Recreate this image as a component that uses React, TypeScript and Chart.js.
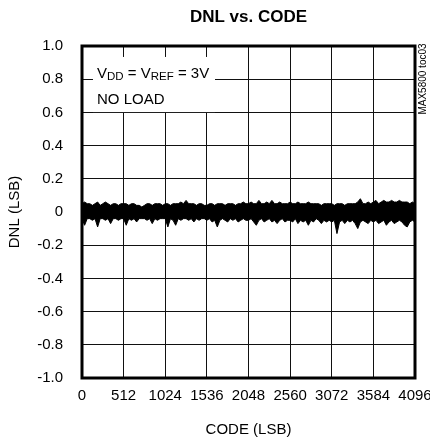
import React, { useEffect, useRef } from "react";
import { Chart, registerables } from "chart.js";

Chart.register(...registerables);

const TITLE = "DNL vs. CODE";
const X_TITLE = "CODE (LSB)";
const Y_TITLE = "DNL (LSB)";
const FIG_ID = "MAX5800 toc03";
const NOTE_LINE1: [string, boolean][] = [
  ["V", false],
  ["DD", true],
  [" = V", false],
  ["REF", true],
  [" = 3V", false],
];
const NOTE_LINE2 = "NO LOAD";

const X_TICKS = [0, 512, 1024, 1536, 2048, 2560, 3072, 3584, 4096];
const Y_TICKS = [-1.0, -0.8, -0.6, -0.4, -0.2, 0, 0.2, 0.4, 0.6, 0.8, 1.0];

// sample spacing of the envelope readings (codes)
const CODE_STEP = 32;

// upper envelope of DNL band (LSB), one reading every 32 codes
const DNL_UPPER = [
  0.05, 0.06, 0.05, 0.05, 0.04, 0.05, 0.06, 0.04, 0.05, 0.06, 0.05, 0.04, 0.05, 0.05, 0.04, 0.05,
  0.05, 0.05, 0.04, 0.05, 0.05, 0.04, 0.04, 0.03, 0.04, 0.05, 0.05, 0.04, 0.05, 0.05, 0.05, 0.04,
  0.05, 0.05, 0.04, 0.05, 0.05, 0.05, 0.06, 0.05, 0.07, 0.05, 0.05, 0.05, 0.04, 0.05, 0.05, 0.04,
  0.04, 0.05, 0.05, 0.04, 0.05, 0.05, 0.05, 0.04, 0.05, 0.05, 0.05, 0.04, 0.05, 0.05, 0.06, 0.05,
  0.05, 0.06, 0.05, 0.05, 0.07, 0.05, 0.05, 0.06, 0.05, 0.07, 0.05, 0.05, 0.06, 0.05, 0.05, 0.05,
  0.06, 0.05, 0.05, 0.06, 0.05, 0.05, 0.05, 0.06, 0.05, 0.05, 0.05, 0.05, 0.04, 0.05, 0.05, 0.05,
  0.05, 0.04, 0.05, 0.05, 0.05, 0.04, 0.05, 0.05, 0.05, 0.05, 0.06, 0.08, 0.05, 0.05, 0.06, 0.05,
  0.06, 0.07, 0.05, 0.06, 0.07, 0.06, 0.06, 0.07, 0.06, 0.06, 0.07, 0.06, 0.06, 0.06, 0.05, 0.06,
  0.05,
];

// lower envelope of DNL band (LSB)
const DNL_LOWER = [
  -0.04, -0.08, -0.04, -0.04, -0.05, -0.04, -0.09, -0.04, -0.04, -0.05, -0.04, -0.07, -0.04, -0.04, -0.05, -0.04,
  -0.04, -0.08, -0.04, -0.05, -0.04, -0.06, -0.04, -0.04, -0.04, -0.05, -0.04, -0.07, -0.04, -0.05, -0.04, -0.04,
  -0.04, -0.09, -0.04, -0.05, -0.08, -0.04, -0.05, -0.04, -0.04, -0.05, -0.04, -0.06, -0.04, -0.05, -0.04, -0.04,
  -0.05, -0.04, -0.06, -0.05, -0.09, -0.05, -0.04, -0.05, -0.06, -0.04, -0.05, -0.04, -0.06, -0.05, -0.04, -0.05,
  -0.05, -0.04, -0.06, -0.08, -0.05, -0.04, -0.06, -0.05, -0.04, -0.06, -0.05, -0.07, -0.05, -0.04, -0.06, -0.05,
  -0.05, -0.06, -0.04, -0.07, -0.05, -0.06, -0.05, -0.08, -0.05, -0.06, -0.04, -0.05, -0.07, -0.05, -0.06, -0.05,
  -0.06, -0.05, -0.13, -0.06, -0.05, -0.07, -0.05, -0.06, -0.05, -0.07, -0.10, -0.06, -0.05, -0.06, -0.07, -0.05,
  -0.06, -0.05, -0.07, -0.06, -0.05, -0.08, -0.06, -0.05, -0.07, -0.06, -0.05, -0.06, -0.08, -0.09, -0.06, -0.05,
  -0.06,
];

const FONT = "'Liberation Sans', Arial, sans-serif";

const chartDecor = {
  id: "chartDecor",
  beforeDatasetsDraw(chart: any) {
    const { ctx } = chart;
    const xs = chart.scales.x;
    const ys = chart.scales.y;
    // white box behind note text
    const bx0 = xs.getPixelForValue(135);
    const bx1 = xs.getPixelForValue(1636);
    const by0 = ys.getPixelForValue(0.934);
    const by1 = ys.getPixelForValue(0.602);
    ctx.save();
    ctx.fillStyle = "#fff";
    ctx.fillRect(bx0, by0, bx1 - bx0, by1 - by0);
    ctx.fillStyle = "#000";
    ctx.textBaseline = "alphabetic";
    ctx.textAlign = "left";
    const tx = xs.getPixelForValue(185);
    const l1 = ys.getPixelForValue(0.807);
    const l2 = ys.getPixelForValue(0.65);
    let cx = tx;
    for (const [t, sub] of NOTE_LINE1) {
      ctx.font = `${sub ? 11.5 : 15}px ${FONT}`;
      ctx.fillText(t, cx, l1 + (sub ? 2 : 0));
      cx += ctx.measureText(t).width;
    }
    ctx.font = `15px ${FONT}`;
    ctx.fillText(NOTE_LINE2, tx, l2);
    ctx.restore();
  },
  afterDatasetsDraw(chart: any) {
    const { ctx, chartArea } = chart;
    ctx.save();
    ctx.strokeStyle = "#000";
    ctx.lineWidth = 3;
    ctx.strokeRect(
      chartArea.left,
      chartArea.top,
      chartArea.right - chartArea.left,
      chartArea.bottom - chartArea.top
    );
    ctx.translate(chartArea.right + 8, chartArea.top + 33);
    ctx.rotate(-Math.PI / 2);
    ctx.fillStyle = "#000";
    ctx.font = `10px ${FONT}`;
    ctx.textAlign = "center";
    ctx.textBaseline = "middle";
    ctx.fillText(FIG_ID, 0, 0);
    ctx.restore();
  },
};

export default function App() {
  const ref = useRef<HTMLCanvasElement>(null);
  useEffect(() => {
    const canvas = ref.current!;
    const chart = new Chart(canvas, {
      type: "line",
      data: {
        datasets: [
          {
            label: "upper",
            data: DNL_UPPER.map((y, i) => ({ x: i * CODE_STEP, y })),
            borderColor: "#000",
            borderWidth: 1,
            pointRadius: 0,
            tension: 0,
            fill: false,
          },
          {
            label: "lower",
            data: DNL_LOWER.map((y, i) => ({ x: i * CODE_STEP, y })),
            borderColor: "#000",
            borderWidth: 1,
            pointRadius: 0,
            tension: 0,
            fill: "-1",
            backgroundColor: "#000",
          },
        ],
      },
      options: {
        responsive: false,
        animation: false,
        layout: { padding: { top: 0, right: 15, bottom: 0, left: 0 } },
        plugins: {
          legend: { display: false },
          tooltip: { enabled: false },
          title: {
            display: true,
            text: TITLE,
            fullSize: false,
            color: "#000",
            font: { family: FONT, size: 17, weight: "bold" },
            padding: { top: 7, bottom: 18.6 },
          },
        },
        scales: {
          x: {
            type: "linear",
            min: 0,
            max: 4096,
            afterBuildTicks: (s: any) => {
              s.ticks = X_TICKS.map((value) => ({ value }));
            },
            afterFit: (s: any) => {
              s.height = 61;
              s.paddingLeft = 0;
              s.paddingRight = 0;
            },
            ticks: {
              color: "#000",
              font: { family: FONT, size: 15 },
              padding: 9,
              maxRotation: 0,
              autoSkip: false,
              callback: (v: any) => String(v),
            },
            grid: { color: "#111", lineWidth: 1, drawTicks: false },
            border: { display: false },
            title: {
              display: true,
              text: X_TITLE,
              color: "#000",
              font: { family: FONT, size: 15 },
              padding: { top: 2, bottom: 0 },
            },
          },
          y: {
            type: "linear",
            min: -1,
            max: 1,
            afterBuildTicks: (s: any) => {
              s.ticks = Y_TICKS.map((value) => ({ value }));
            },
            afterFit: (s: any) => {
              s.width = 82;
              s.paddingTop = 0;
              s.paddingBottom = 0;
            },
            ticks: {
              color: "#000",
              font: { family: FONT, size: 15 },
              padding: 19,
              autoSkip: false,
              callback: (v: any) => (Number(v) === 0 ? "0" : Number(v).toFixed(1)),
            },
            grid: { color: "#111", lineWidth: 1, drawTicks: false },
            border: { display: false },
            title: {
              display: true,
              text: Y_TITLE,
              color: "#000",
              font: { family: FONT, size: 15 },
              padding: { top: 6, bottom: 0 },
            },
          },
        },
      },
      plugins: [chartDecor],
    });
    return () => chart.destroy();
  }, []);
  return (
    <div style={{ position: "fixed", left: 0, top: 0, width: 430, height: 439, background: "#fff" }}>
      <canvas ref={ref} width={430} height={439} />
    </div>
  );
}
